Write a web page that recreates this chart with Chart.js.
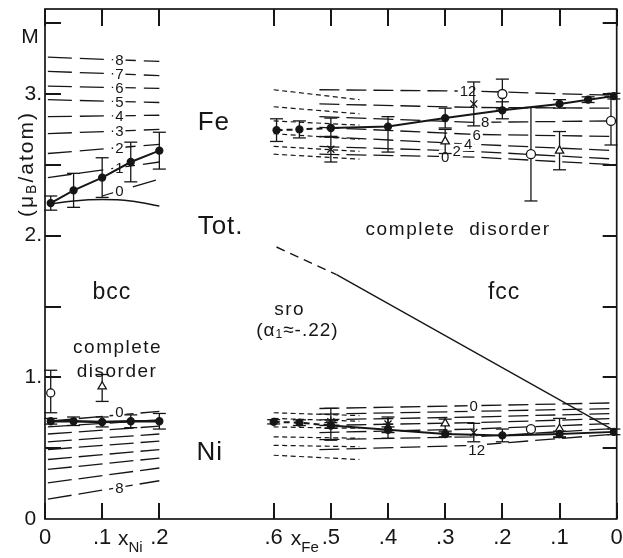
<!DOCTYPE html>
<html>
<head>
<meta charset="utf-8">
<script src="https://cdn.jsdelivr.net/npm/chart.js@4.4.0/dist/chart.umd.min.js"></script>
<style>
  html, body { margin: 0; padding: 0; background: #fff; }
  canvas { display: block; }
</style>
</head>
<body>
<canvas id="chart" width="623" height="558"></canvas>
<script>
// One linear x axis: bcc side is x_Ni (0 .. .2), fcc side is x_Fe running .6 -> 0
const xAxisTickPos = [0, 0.1, 0.2, 0.4, 0.5, 0.6, 0.7, 0.8, 0.9, 1.0];
const xAxisTickLabels = ['0', '.1', '.2', '.6', '.5', '.4', '.3', '.2', '.1', '0'];
const yAxisTickPos = [0, 0.5, 1, 1.5, 2, 2.5, 3, 3.5];
const yAxisTickLabels = ['0 ', '', '1.', '', '2.', '', '3.', ''];

// ---- bcc, measured (filled dots) ----
const bccX = [0.01, 0.05, 0.1, 0.15, 0.2];
const bccFeM = [2.23, 2.32, 2.41, 2.52, 2.60];
const bccFeErr = [0.05, 0.12, 0.14, 0.14, 0.13];
const bccNiM = [0.69, 0.69, 0.685, 0.69, 0.69];
const bccNiErr = [0.02, 0.03, 0.035, 0.045, 0.055];

// bcc, other data
const bccNiCircX = [0.01];
const bccNiCircM = [0.89];
const bccNiCircLo = [0.14];
const bccNiCircHi = [0.16];
const bccNiTriX = [0.1];
const bccNiTriM = [0.935];
const bccNiTriLo = [0.105];
const bccNiTriHi = [0.085];

// bcc, complete disorder curve (Fe)
const bccCurveX = [0.005, 0.05, 0.1, 0.15, 0.2];
const bccCurveM = [2.22, 2.245, 2.255, 2.245, 2.21];

// bcc, sro curves 0..8 (values at x_Ni start and .2)
const bccFeLineStart = [0.1, 0.005, 0.005, 0.005, 0.005, 0.005, 0.005, 0.005, 0.005];
const bccFeLines = [
  [2.28, 2.40], [2.41, 2.52], [2.58, 2.645], [2.72, 2.75], [2.84, 2.85],
  [2.96, 2.94], [3.055, 3.04], [3.16, 3.13], [3.26, 3.23]
];
const bccNiLines = [
  [0.69, 0.76], [0.65, 0.70], [0.60, 0.655], [0.545, 0.60], [0.49, 0.55],
  [0.42, 0.49], [0.35, 0.43], [0.255, 0.36], [0.14, 0.27]
];

// ---- fcc, measured (filled dots) ----
const fccFeX = [0.595, 0.555, 0.5, 0.4, 0.3, 0.2, 0.1, 0.05, 0.005];
const fccFeM = [2.745, 2.75, 2.76, 2.77, 2.83, 2.885, 2.93, 2.96, 2.985];
const fccFeLo = [0.08, 0.06, 0.06, 0.18, 0.07, 0.06, 0.03, 0.02, 0.02];
const fccFeHi = [0.08, 0.06, 0.07, 0.07, 0.07, 0.06, 0.03, 0.02, 0.02];
const fccNiX = [0.6, 0.555, 0.5, 0.4, 0.3, 0.2, 0.1, 0.005];
const fccNiM = [0.686, 0.68, 0.66, 0.63, 0.60, 0.59, 0.60, 0.615];
const fccNiErr = [0.015, 0.02, 0.02, 0.02, 0.02, 0.045, 0.02, 0.02];

// fcc, other data (Fe)
const fccFeCrossX = [0.5, 0.25];
const fccFeCrossM = [2.61, 2.93];
const fccFeCrossErr = [0.09, 0.155];
const fccFeTriX = [0.3, 0.1];
const fccFeTriM = [2.665, 2.60];
const fccFeTriErr = [0.085, 0.135];
const fccFeDotX = [0.2, 0.15];
const fccFeDotM = [3.0, 2.575];
const fccFeDotErr = [0.105, 0.33];
const fccFeCircX = [0.01];
const fccFeCircM = [2.81];
const fccFeCircErr = [0.17];

// fcc, other data (Ni)
const fccNiStarX = [0.5, 0.4];
const fccNiStarM = [0.686, 0.67];
const fccNiStarLo = [0.13, 0.1];
const fccNiStarHi = [0.095, 0.05];
const fccNiTriX = [0.3, 0.1];
const fccNiTriM = [0.675, 0.635];
const fccNiTriLo = [0.07, 0.06];
const fccNiTriHi = [0.03, 0.075];
const fccNiCrossX = [0.25];
const fccNiCrossM = [0.61];
const fccNiCrossErr = [0.065];
const fccNiDotX = [0.15];
const fccNiDotM = [0.635];

// fcc, complete disorder curves 0..12 (values at x_Fe .52, .25, 0)
const fccLineX = [0.52, 0.25, 0.0];
const fccFeLines = [
  [2.575, 2.555, 2.50], [2.63, 2.595, 2.54], [2.70, 2.645, 2.60], [2.765, 2.715, 2.70],
  [2.84, 2.80, 2.81], [2.93, 2.905, 2.90], [3.03, 3.02, 2.99]
];
const fccNiLines = [
  [0.78, 0.80, 0.82], [0.74, 0.76, 0.78], [0.70, 0.72, 0.745], [0.66, 0.68, 0.71],
  [0.61, 0.635, 0.675], [0.56, 0.58, 0.64], [0.49, 0.52, 0.60]
];
const fccLineNames = ['0', '2', '4', '6', '8', '', '12'];
const fccFeLabelAt = [0.30, 0.28, 0.26, 0.245, 0.23, 0.25, 0.26];

// fcc, sro curves (values at x_Fe .6 and .45)
const fccSroX = [0.6, 0.45];
const fccFeSro = [[3.03, 2.96], [2.91, 2.86], [2.81, 2.78], [2.72, 2.68], [2.63, 2.595], [2.575, 2.54]];
const fccNiSro = [[0.75, 0.73], [0.71, 0.69], [0.65, 0.64], [0.58, 0.57], [0.52, 0.51], [0.45, 0.42]];

// total moment
const totDashX = [0.595, 0.49];
const totDashM = [1.92, 1.725];
const totX = [0.49, 0.0];
const totM = [1.725, 0.615];

const INK = '#161616';
const FONT = '"Liberation Sans", Arial, Helvetica, sans-serif';

const uNi = x => x;
const uFe = x => 1 - x;

function pts(xs, ms, toU) {
    return xs.map((x, i) => ({ x: toU(x), y: ms[i] }));
}

function interp(xs, ys, x) {
    for (let i = 0; i < xs.length - 1; i++) {
        const a = xs[i], b = xs[i + 1];
        if ((x - a) * (x - b) <= 0) {
            return ys[i] + (x - a) / (b - a) * (ys[i + 1] - ys[i]);
        }
    }
    return ys[ys.length - 1];
}

function lineSet(xs, ms, toU, dash, width, order) {
    return {
        data: pts(xs, ms, toU), showLine: true, borderColor: INK,
        borderWidth: width, borderDash: dash, pointRadius: 0, order: order
    };
}

function markSet(xs, ms, toU, style, radius, fill, width) {
    return {
        data: pts(xs, ms, toU), showLine: false, pointStyle: style,
        pointRadius: radius, backgroundColor: fill, borderColor: INK,
        borderWidth: width || 1.3, order: 0
    };
}

const datasets = [];
// hook: labels, ticks and error bars are drawn right after this one (between curves and markers)
datasets.push({ data: [], isHook: true, order: 1, pointRadius: 0 });

// theory curves
bccFeLines.forEach((m, i) => datasets.push(lineSet([bccFeLineStart[i], 0.2], m, uNi, [24, 8], 1.3, 2)));
bccNiLines.forEach(m => datasets.push(lineSet([0.005, 0.2], m, uNi, [24, 7], 1.3, 2)));
datasets.push(Object.assign(lineSet(bccCurveX, bccCurveM, uNi, [], 1.6, 2), { tension: 0.4 }));
fccFeLines.forEach(m => datasets.push(lineSet(fccLineX, m, uFe, [20, 7], 1.3, 2)));
fccNiLines.forEach(m => datasets.push(lineSet(fccLineX, m, uFe, [20, 7], 1.3, 2)));
fccFeSro.forEach(m => datasets.push(lineSet(fccSroX, m, uFe, [5, 3.5], 1.2, 2)));
fccNiSro.forEach(m => datasets.push(lineSet(fccSroX, m, uFe, [5, 3.5], 1.2, 2)));
datasets.push(lineSet(totDashX, totDashM, uFe, [9, 6], 1.4, 2));
datasets.push(lineSet(totX, totM, uFe, [], 1.4, 2));

// measured lines + dots
const dashFirst = { borderDash: c => (c.p0DataIndex < 2 ? [6, 4] : []) };
datasets.push(lineSet(bccX, bccFeM, uNi, [], 2, 0));
datasets.push(lineSet(bccX, bccNiM, uNi, [], 2.6, 0));
datasets.push(Object.assign(lineSet(fccFeX, fccFeM, uFe, [], 2, 0), { segment: dashFirst }));
datasets.push(Object.assign(lineSet(fccNiX, fccNiM, uFe, [], 2, 0), { segment: dashFirst }));
datasets.push(markSet(bccX, bccFeM, uNi, 'circle', 3.5, INK));
datasets.push(markSet(bccX, bccNiM, uNi, 'circle', 3.5, INK));
datasets.push(markSet(fccFeX, fccFeM, uFe, 'circle', 3.5, INK));
datasets.push(markSet(fccNiX, fccNiM, uFe, 'circle', 3.5, INK));

// other symbols
datasets.push(markSet(bccNiCircX, bccNiCircM, uNi, 'circle', 4, '#fff'));
datasets.push(markSet(bccNiTriX, bccNiTriM, uNi, 'triangle', 4.8, '#fff'));
datasets.push(markSet(fccFeCrossX, fccFeCrossM, uFe, 'crossRot', 5, INK));
datasets.push(markSet(fccFeTriX, fccFeTriM, uFe, 'triangle', 4.8, '#fff'));
datasets.push(markSet(fccFeDotX, fccFeDotM, uFe, 'circle', 4.5, '#fff'));
datasets.push(markSet(fccFeDotX, fccFeDotM, uFe, 'circle', 1.6, INK));
datasets.push(markSet(fccFeCircX, fccFeCircM, uFe, 'circle', 4.5, '#fff'));
datasets.push(markSet(fccNiStarX, fccNiStarM, uFe, 'star', 5, INK));
datasets.push(markSet(fccNiTriX, fccNiTriM, uFe, 'triangle', 4.8, '#fff'));
datasets.push(markSet(fccNiCrossX, fccNiCrossM, uFe, 'crossRot', 5, INK));
datasets.push(markSet(fccNiDotX, fccNiDotM, uFe, 'circle', 4.5, '#fff'));
datasets.push(markSet(fccNiDotX, fccNiDotM, uFe, 'circle', 1.6, INK));

// error bars
const errorBars = [
    { xs: bccX, ms: bccFeM, lo: bccFeErr, hi: bccFeErr, toU: uNi },
    { xs: bccX, ms: bccNiM, lo: bccNiErr, hi: bccNiErr, toU: uNi },
    { xs: bccNiCircX, ms: bccNiCircM, lo: bccNiCircLo, hi: bccNiCircHi, toU: uNi },
    { xs: bccNiTriX, ms: bccNiTriM, lo: bccNiTriLo, hi: bccNiTriHi, toU: uNi },
    { xs: fccFeX, ms: fccFeM, lo: fccFeLo, hi: fccFeHi, toU: uFe },
    { xs: fccNiX, ms: fccNiM, lo: fccNiErr, hi: fccNiErr, toU: uFe },
    { xs: fccFeCrossX, ms: fccFeCrossM, lo: fccFeCrossErr, hi: fccFeCrossErr, toU: uFe },
    { xs: fccFeTriX, ms: fccFeTriM, lo: fccFeTriErr, hi: fccFeTriErr, toU: uFe },
    { xs: fccFeDotX, ms: fccFeDotM, lo: fccFeDotErr, hi: fccFeDotErr, toU: uFe },
    { xs: fccFeCircX, ms: fccFeCircM, lo: fccFeCircErr, hi: fccFeCircErr, toU: uFe },
    { xs: fccNiStarX, ms: fccNiStarM, lo: fccNiStarLo, hi: fccNiStarHi, toU: uFe },
    { xs: fccNiTriX, ms: fccNiTriM, lo: fccNiTriLo, hi: fccNiTriHi, toU: uFe },
    { xs: fccNiCrossX, ms: fccNiCrossM, lo: fccNiCrossErr, hi: fccNiCrossErr, toU: uFe }
];

// numbers written on the curves
const lineLabels = [];
bccFeLines.forEach((m, i) => lineLabels.push({ text: String(i), xs: [bccFeLineStart[i], 0.2], ms: m, at: 0.13, toU: uNi }));
lineLabels.push({ text: '0', xs: [0.005, 0.2], ms: bccNiLines[0], at: 0.13, toU: uNi, dy: -3 });
lineLabels.push({ text: '8', xs: [0.005, 0.2], ms: bccNiLines[8], at: 0.13, toU: uNi });
fccFeLines.forEach((m, i) => {
    if (fccLineNames[i]) lineLabels.push({ text: fccLineNames[i], xs: fccLineX, ms: m, at: fccFeLabelAt[i], toU: uFe });
});
lineLabels.push({ text: '0', xs: fccLineX, ms: fccNiLines[0], at: 0.25, toU: uFe });
lineLabels.push({ text: '12', xs: fccLineX, ms: fccNiLines[6], at: 0.245, toU: uFe, dy: 5 });

function richText(ctx, parts, x, y, align) {
    let total = 0;
    parts.forEach(p => { ctx.font = `${p.size}px ${FONT}`; p.w = ctx.measureText(p.t).width; total += p.w; });
    let cx = align === 'center' ? x - total / 2 : x;
    ctx.textAlign = 'left';
    parts.forEach(p => {
        ctx.font = `${p.size}px ${FONT}`;
        ctx.fillText(p.t, cx, y + (p.dy || 0));
        cx += p.w;
    });
}

function seg(ctx, x0, y0, x1, y1) {
    ctx.beginPath();
    ctx.moveTo(x0, y0);
    ctx.lineTo(x1, y1);
    ctx.stroke();
}

const decorPlugin = {
    id: 'decor',
    afterDatasetDraw(chart, args) {
        if (!chart.data.datasets[args.index].isHook) return;
        const ctx = chart.ctx, sx = chart.scales.x, sy = chart.scales.y;
        ctx.save();
        ctx.setLineDash([]);
        ctx.font = `15px ${FONT}`;
        ctx.textAlign = 'center';
        ctx.textBaseline = 'middle';
        lineLabels.forEach(l => {
            const px = sx.getPixelForValue(l.toU(l.at));
            const py = sy.getPixelForValue(interp(l.xs, l.ms, l.at)) + (l.dy || 0);
            const w = ctx.measureText(l.text).width;
            ctx.fillStyle = '#fff';
            ctx.fillRect(px - w / 2 - 2, py - 7, w + 4, 14);
            ctx.fillStyle = INK;
            ctx.fillText(l.text, px, py + 1);
        });
        ctx.strokeStyle = INK;
        ctx.lineWidth = 1.3;
        errorBars.forEach(e => {
            e.xs.forEach((x, i) => {
                const px = sx.getPixelForValue(e.toU(x));
                const top = sy.getPixelForValue(e.ms[i] + e.hi[i]);
                const bot = sy.getPixelForValue(e.ms[i] - e.lo[i]);
                seg(ctx, px, top, px, bot);
                seg(ctx, px - 6.5, top, px + 6.5, top);
                seg(ctx, px - 6.5, bot, px + 6.5, bot);
            });
        });
        ctx.restore();
    },
    afterDraw(chart) {
        const ctx = chart.ctx, sx = chart.scales.x, sy = chart.scales.y;
        const L = sx.left, R = sx.right, T = sy.top, B = sy.bottom;
        const P = (u, m) => [sx.getPixelForValue(u), sy.getPixelForValue(m)];
        ctx.save();
        ctx.setLineDash([]);
        ctx.strokeStyle = INK;
        ctx.lineWidth = 1.7;
        ctx.strokeRect(L, T, R - L, B - T);
        // inward ticks: x on top and bottom, y on left and right
        ctx.fillStyle = INK;
        xAxisTickPos.forEach(v => {
            const px = Math.round(P(v, 0)[0]);
            ctx.fillRect(px - 1, Math.round(B) - 16, 2, 16);
            ctx.fillRect(px - 1, Math.round(T), 2, 17);
        });
        yAxisTickPos.forEach((v, i) => {
            if (i === 0) return;
            const py = Math.round(P(0, v)[1]);
            ctx.fillRect(L, py - 1, 16, 2);
            ctx.fillRect(R - 14, py - 1, 14, 2);
        });

        ctx.textBaseline = 'middle';
        const put = (t, u, m, size, align, spacing) => {
            const [px, py] = P(u, m);
            ctx.font = `${size}px ${FONT}`;
            ctx.letterSpacing = spacing || '0px';
            ctx.textAlign = align;
            ctx.fillText(t, px, py);
            ctx.letterSpacing = '0px';
        };
        put('Fe', 0.267, 2.80, 26, 'left', '1px');
        put('Tot.', 0.267, 2.06, 26, 'left', '1px');
        put('Ni', 0.265, 0.47, 26, 'left', '1px');
        put('bcc', 0.117, 1.60, 23, 'center', '1px');
        put('complete', 0.127, 1.21, 19, 'center', '1.5px');
        put('disorder', 0.126, 1.04, 19, 'center', '1.5px');
        put('fcc', 0.803, 1.595, 23, 'center', '1px');
        put('sro', 0.428, 1.48, 19, 'center', '1.5px');
        put('complete  disorder', 0.7225, 2.04, 19, 'center', '1.6px');
        {
            const [px, py] = P(0.4415, 1.327);
            ctx.letterSpacing = '1px';
            richText(ctx, [
                { t: '(\u03B1', size: 19 },
                { t: '1', size: 12, dy: 4 },
                { t: '\u2248-.22)', size: 19 }
            ], px, py, 'center');
            ctx.letterSpacing = '0px';
        }

        // axis titles
        ctx.font = `21px ${FONT}`;
        ctx.textAlign = 'center';
        ctx.fillText('M', 30, 37);
        ctx.save();
        ctx.translate(27, 164);
        ctx.rotate(-Math.PI / 2);
        ctx.letterSpacing = '2px';
        richText(ctx, [
            { t: '(\u03BC', size: 21 },
            { t: 'B', size: 14, dy: 5 },
            { t: '/atom)', size: 21 }
        ], 0, 0, 'center');
        ctx.restore();

        const xn = sx.getPixelForValue(0.14);
        richText(ctx, [{ t: 'x', size: 21 }, { t: 'Ni', size: 15, dy: 9 }], xn - 7, 539, 'left');
        const xf = sx.getPixelForValue(0.437);
        richText(ctx, [{ t: 'x', size: 21 }, { t: 'Fe', size: 15, dy: 9 }], xf - 4, 539, 'left');
        ctx.restore();
    }
};

new Chart(document.getElementById('chart'), {
    type: 'scatter',
    data: { datasets },
    options: {
        responsive: false,
        animation: false,
        devicePixelRatio: 1,
        layout: { padding: { top: 9, right: 5, left: 0, bottom: 0 } },
        plugins: { legend: { display: false }, tooltip: { enabled: false } },
        scales: {
            x: {
                type: 'linear', min: 0, max: 1,
                grid: { display: false, drawTicks: false },
                border: { display: false },
                afterBuildTicks: s => { s.ticks = xAxisTickPos.map(v => ({ value: v })); },
                afterFit: s => { s.height = 39; s.paddingLeft = 0; s.paddingRight = 0; },
                ticks: {
                    autoSkip: false, maxRotation: 0, padding: 6, color: INK,
                    font: { family: FONT, size: 22 },
                    callback: (v, i) => xAxisTickLabels[i]
                }
            },
            y: {
                type: 'linear', min: 0, max: 3.6,
                grid: { display: false, drawTicks: false },
                border: { display: false },
                afterBuildTicks: s => { s.ticks = yAxisTickPos.map(v => ({ value: v })); },
                afterFit: s => { s.width = 45; s.paddingTop = 0; s.paddingBottom = 0; },
                ticks: {
                    autoSkip: false, padding: 3, color: INK,
                    font: { family: FONT, size: 21 },
                    callback: (v, i) => yAxisTickLabels[i]
                }
            }
        }
    },
    plugins: [decorPlugin]
});
</script>
</body>
</html>
